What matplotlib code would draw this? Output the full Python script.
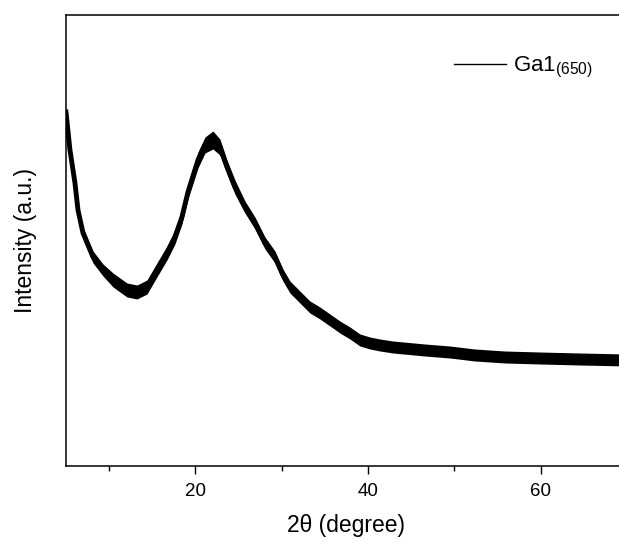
import numpy as np
import matplotlib
matplotlib.use("Agg")
import matplotlib.pyplot as plt
from matplotlib.ticker import MultipleLocator

plt.rcParams['font.family'] = ['Liberation Sans', 'DejaVu Sans']
plt.rcParams['mathtext.default'] = 'regular'

# values (intensity in arbitrary units)
two_theta = [5.0, 5.46, 6.04, 6.39, 6.97, 8.13, 9.29, 10.45, 12.07, 13.23,
             14.39, 15.54, 16.70, 17.63, 18.44, 19.14, 20.30, 21.11, 22.03, 22.84,
             23.66, 24.58, 25.74, 26.90, 28.06, 29.22, 30.14, 30.96, 32.11, 33.27,
             34.43, 35.59, 36.75, 37.91, 39.07, 40.23, 41.39, 42.89, 46.60, 49.50,
             52.39, 55.87, 59.93, 64.56, 70.0]
intensity = [354, 316, 283, 256, 233, 209, 196, 186, 176, 174,
             179, 196, 213, 229, 249, 274, 306, 321, 326, 319,
             299, 279, 259, 243, 223, 209, 191, 179, 169, 159,
             153, 146, 139, 133, 126, 123, 121, 119, 116, 114,
             111, 109, 108, 107, 106]
# half width of the noise band
spread = [4, 4, 5, 5, 6, 6, 6, 7, 7, 7,
          7, 7, 7, 7, 7, 7, 8, 8, 9, 8,
          7, 7, 6, 6, 6, 6, 6, 6, 6, 6,
          6, 6, 6, 6, 6, 6, 6, 6, 6, 6,
          6, 6, 6, 6, 6]

x = np.array(two_theta)
y = np.array(intensity)
s = np.array(spread)

fig = plt.figure(figsize=(6.19, 5.43), dpi=100)
ax = fig.add_axes([0.1066, 0.1418, 0.906, 0.8306])

ax.fill_between(x, y - s, y + s, color='black', lw=0)
ax.plot(x, y, color='black', lw=3.5, label='Ga1$_{(650)}$')

ax.set_xlim(5, 70)
ax.set_ylim(0, 451)

ax.xaxis.set_major_locator(MultipleLocator(20))
ax.xaxis.set_minor_locator(MultipleLocator(10))
ax.tick_params(axis='x', which='major', direction='out', length=6, width=1, labelsize=13.5, pad=6)
ax.tick_params(axis='x', which='minor', direction='out', length=3.5, width=1)
ax.set_yticks([])
for sp in ax.spines.values():
    sp.set_linewidth(1.1)

ax.set_xlabel('2θ (degree)', fontsize=16.5, labelpad=10)
ax.set_ylabel('Intensity (a.u.)', fontsize=16.5, labelpad=21)

leg = ax.legend(loc='upper right', bbox_to_anchor=(0.975, 0.955), frameon=False,
                fontsize=16, handlelength=2.35, handletextpad=0.32)
for h in leg.get_lines():
    h.set_linewidth(1)

fig.savefig('out.png', dpi=100)
